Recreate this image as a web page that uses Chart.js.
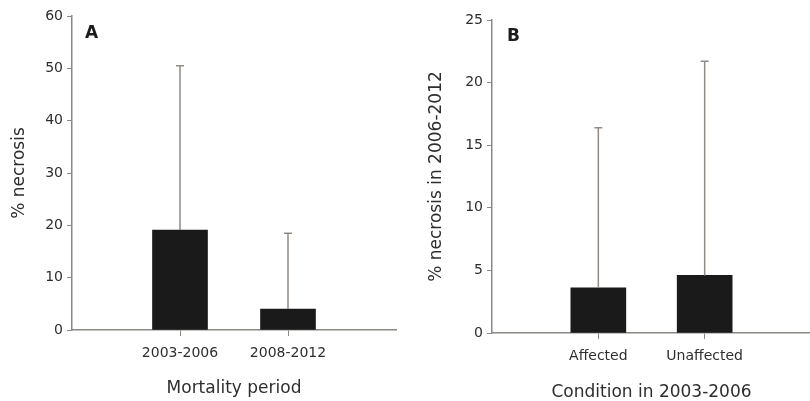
<!DOCTYPE html>
<html>
<head>
<meta charset="utf-8">
<script src="https://cdn.jsdelivr.net/npm/chart.js@4"></script>
<style>
  html, body { margin: 0; padding: 0; background: #fff; }
  body { width: 810px; height: 401px; overflow: hidden; position: relative; }
  .panel { position: absolute; top: 0; }
  .letter { position: absolute; font: bold 17px "DejaVu Sans", sans-serif; color: #1c1c1c; }
</style>
</head>
<body>
<div class="panel" style="left:0"><canvas id="chartA" width="405" height="401"></canvas></div>
<div class="panel" style="left:405px"><canvas id="chartB" width="415" height="401"></canvas></div>
<div class="letter" style="left:85px;top:22px">A</div>
<div class="letter" style="left:507px;top:25px">B</div>
<script>
/* ---------- Data ---------- */
const periodLabels = ['2003-2006', '2008-2012'];
const periodMeans = [19.1, 4.0];
const periodUpper = [50.5, 18.5];

const conditionLabels = ['Affected', 'Unaffected'];
const conditionMeans = [3.6, 4.6];
const conditionUpper = [16.4, 21.7];

/* ---------- Styles ---------- */
const axisColor = '#8c8884';
const errColor = '#938b85';
const textColor = '#2e2e2e';
const barColor = '#1a1a1a';
const fontFamily = '"DejaVu Sans", sans-serif';

// pad categories with empty slots so the bars sit at 1/3 and 2/3 of the axis
function padded(arr, fill) {
  return [fill, ...arr, fill];
}

/* ---------- Error bar plugin ---------- */
const errorBars = {
  id: 'errorBars',
  afterDatasetsDraw(chart, args, opts) {
    const { ctx } = chart;
    const yScale = chart.scales.y;
    const meta = chart.getDatasetMeta(0);
    ctx.save();
    ctx.strokeStyle = opts.color;
    ctx.lineWidth = 1.5;
    opts.upper.forEach((v, i) => {
      if (v == null) return;
      const bar = meta.data[i];
      const x = bar.x;
      const yTop = yScale.getPixelForValue(v);
      ctx.beginPath();
      ctx.moveTo(x, bar.y);
      ctx.lineTo(x, yTop);
      ctx.moveTo(x - 4, yTop);
      ctx.lineTo(x + 4, yTop);
      ctx.stroke();
    });
    ctx.restore();
  }
};

function makeChart(id, cfg) {
  return new Chart(document.getElementById(id), {
    type: 'bar',
    data: {
      labels: padded(cfg.labels, ''),
      datasets: [{
        data: padded(cfg.means, null),
        backgroundColor: barColor,
        borderWidth: 0,
        barThickness: 55,
      }],
    },
    options: {
      responsive: false,
      animation: false,
      layout: { padding: cfg.padding },
      plugins: {
        legend: { display: false },
        tooltip: { enabled: false },
        errorBars: { upper: padded(cfg.upper, null), color: errColor },
      },
      scales: {
        x: {
          offset: false,
          afterFit(scale) { scale.height = cfg.xHeight; },
          border: { display: true, color: axisColor, width: 1.5 },
          grid: {
            offset: false,
            drawOnChartArea: false,
            drawTicks: true,
            tickLength: 6,
            tickColor: c => (c.index === 1 || c.index === 2) ? axisColor : 'rgba(0,0,0,0)',
          },
          ticks: {
            autoSkip: false,
            maxRotation: 0,
            padding: 9,
            color: textColor,
            font: { family: fontFamily, size: 14 },
          },
          title: {
            display: true,
            text: cfg.xTitle,
            color: textColor,
            font: { family: fontFamily, size: 17, lineHeight: 1.0 },
            padding: { top: 0, bottom: cfg.xTitlePad },
          },
        },
        y: {
          min: 0,
          max: cfg.yMax,
          afterFit(scale) { scale.width = cfg.yWidth; },
          border: { display: true, color: axisColor, width: 1.5 },
          grid: {
            drawOnChartArea: false,
            drawTicks: true,
            tickLength: 5,
            tickColor: axisColor,
          },
          ticks: {
            stepSize: cfg.yStep,
            padding: 4,
            color: textColor,
            font: { family: fontFamily, size: 14 },
          },
          title: {
            display: true,
            text: cfg.yTitle,
            color: textColor,
            font: { family: fontFamily, size: 17, lineHeight: 1.0 },
            padding: { top: cfg.yTitlePad, bottom: 0 },
          },
        },
      },
    },
    plugins: [errorBars],
  });
}

/* ---------- Init ---------- */
makeChart('chartA', {
  labels: periodLabels,
  means: periodMeans,
  upper: periodUpper,
  yMax: 60,
  yStep: 10,
  yWidth: 72,
  xHeight: 71,
  padding: { left: 0, top: 16, right: 5, bottom: 0 },
  xTitle: 'Mortality period',
  yTitle: '% necrosis',
  xTitlePad: 4,
  yTitlePad: 11,
});

makeChart('chartB', {
  labels: conditionLabels,
  means: conditionMeans,
  upper: conditionUpper,
  yMax: 25,
  yStep: 5,
  yWidth: 87,
  xHeight: 68,
  padding: { left: 0, top: 20, right: 3, bottom: 0 },
  xTitle: 'Condition in 2003-2006',
  yTitle: '% necrosis in 2006-2012',
  xTitlePad: 0,
  yTitlePad: 23,
});
</script>
</body>
</html>
